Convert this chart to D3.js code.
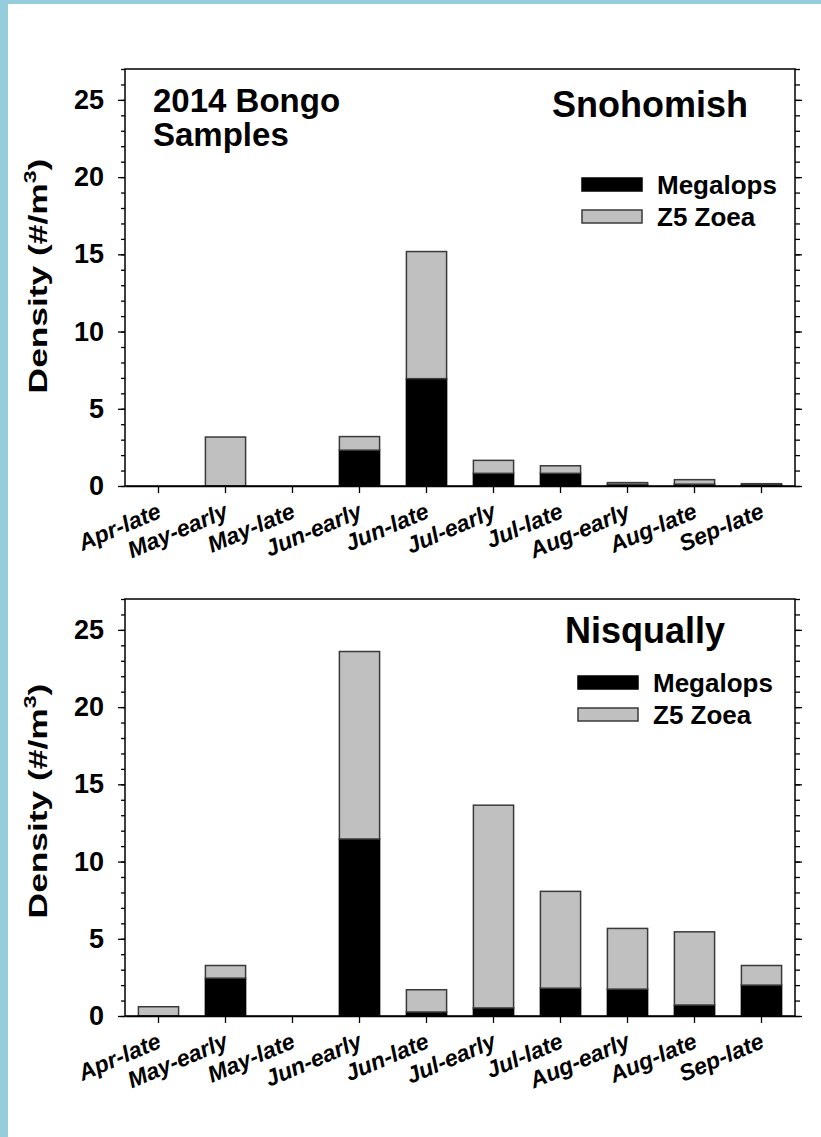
<!DOCTYPE html>
<html lang="en">
  <head>
    <meta charset="UTF-8" />
    <title>2014 Bongo Samples</title>
    <script src="https://d3js.org/d3.v7.min.js"></script>
    <style>
      body {
        margin: 0;
        background: #ffffff;
      }
      svg {
        display: block;
        font-family: "Liberation Sans", Arial, sans-serif;
        font-weight: bold;
      }
    </style>
  </head>
  <body>
    <script>
      // periods on the x axis
      const periods = ["Apr-late", "May-early", "May-late", "Jun-early", "Jun-late", "Jul-early", "Jul-late", "Aug-early", "Aug-late", "Sep-late"];

      // densities (#/m3)
      const snohomishMegalops = [0, 0, 0, 2.32, 6.95, 0.82, 0.82, 0.1, 0.12, 0.07];
      const snohomishZoea = [0, 3.17, 0, 0.88, 8.23, 0.84, 0.49, 0.12, 0.29, 0.08];
      const nisquallyMegalops = [0, 2.45, 0, 11.46, 0.26, 0.52, 1.8, 1.74, 0.71, 2.0];
      const nisquallyZoea = [0.6, 0.82, 0, 12.14, 1.44, 13.13, 6.27, 3.93, 4.74, 1.27];

      const seriesNames = ["Megalops", "Z5 Zoea"];
      const yTicks = [0, 5, 10, 15, 20, 25];
      const yMax = 27;

      const W = 821,
        H = 1137;

      const svg = d3.select("body").append("svg").attr("width", W).attr("height", H);

      // light blue frame on the left and top
      svg.append("rect").attr("width", W).attr("height", H).attr("fill", "#96cddc");
      svg.append("rect").attr("x", 8).attr("y", 4).attr("width", W - 8).attr("height", H - 4).attr("fill", "#ffffff");

      const color = d3.scaleOrdinal().domain(seriesNames).range(["#000000", "#c0c0c0"]);
      const strokeColor = d3.scaleOrdinal().domain(seriesNames).range(["#000000", "#3a3a3a"]);

      function drawPanel(cfg) {
        const x = d3.scaleBand().domain(periods).range([125, 795]).paddingInner(0.4).paddingOuter(0.2);
        const y = d3.scaleLinear().domain([0, yMax]).range([cfg.bottom, cfg.top]);

        const rows = periods.map((p, i) => ({ period: p, Megalops: cfg.megalops[i], "Z5 Zoea": cfg.zoea[i] }));
        const stacked = d3.stack().keys(seriesNames)(rows);

        const g = svg.append("g");

        // bars
        g.selectAll(".series")
          .data(stacked)
          .enter()
          .append("g")
          .attr("fill", (d) => color(d.key))
          .attr("stroke", (d) => strokeColor(d.key))
          .attr("stroke-width", 1.5)
          .selectAll("rect")
          .data((d) => d.filter((v) => v[1] - v[0] > 0))
          .enter()
          .append("rect")
          .attr("x", (d) => x(d.data.period))
          .attr("width", x.bandwidth())
          .attr("y", (d) => y(d[1]))
          .attr("height", (d) => y(d[0]) - y(d[1]));

        // frame
        g.append("rect")
          .attr("x", 125)
          .attr("y", cfg.top)
          .attr("width", 670)
          .attr("height", cfg.bottom - cfg.top)
          .attr("fill", "none")
          .attr("stroke", "#000")
          .attr("stroke-width", 1.5);

        // left axis: labelled majors, minor every 1
        const left = g.append("g").attr("transform", "translate(125,0)");
        left.call(d3.axisLeft(y).tickValues(d3.range(0, yMax + 1, 1)).tickSize(4).tickFormat(""));
        const leftMajor = g.append("g").attr("transform", "translate(125,0)");
        leftMajor.call(d3.axisLeft(y).tickValues(yTicks).tickSize(7).tickPadding(14));
        left.select(".domain").remove();
        leftMajor.select(".domain").remove();
        left.selectAll("line").attr("stroke-width", 1.3);
        leftMajor.selectAll("line").attr("stroke-width", 1.3);
        leftMajor.selectAll("text").attr("font-size", 27).attr("font-family", "Liberation Sans").attr("font-weight", "bold").attr("fill", "#000");

        // right axis: inward ticks
        const right = g.append("g").attr("transform", "translate(795,0)");
        right.call(d3.axisLeft(y).tickValues(d3.range(0, yMax + 1, 1)).tickSize(-5).tickFormat(""));
        const rightMajor = g.append("g").attr("transform", "translate(795,0)");
        rightMajor.call(d3.axisLeft(y).tickValues(yTicks).tickSize(-7).tickFormat(""));
        right.select(".domain").remove();
        rightMajor.select(".domain").remove();
        right.selectAll("line").attr("stroke-width", 1.3);
        rightMajor.selectAll("line").attr("stroke-width", 1.3);

        // bottom axis
        const bottom = g.append("g").attr("transform", `translate(0,${cfg.bottom})`);
        bottom.call(d3.axisBottom(x).tickSize(7).tickSizeOuter(0));
        bottom.select(".domain").attr("stroke-width", 1.5);
        bottom.selectAll("line").attr("stroke-width", 1.3);
        bottom
          .selectAll("text")
          .attr("font-size", 23)
          .attr("font-family", "Liberation Sans")
          .attr("font-weight", "bold")
          .attr("font-style", "italic")
          .attr("fill", "#000")
          .attr("text-anchor", "end")
          .attr("x", 0)
          .attr("y", 0)
          .attr("dy", "0")
          .attr("transform", "translate(4,31) rotate(-23)");

        // y title with superscript (drawn stretched along its length like the original)
        const yt = g
          .append("text")
          .attr("transform", `translate(47,${cfg.labelY}) rotate(-90) scale(1.36,1)`)
          .attr("text-anchor", "middle")
          .attr("font-size", 26);
        yt.append("tspan").text("Density (#/m");
        yt.append("tspan").attr("font-size", 17).attr("dy", -11).text("3");
        yt.append("tspan").attr("dy", 11).text(")");

        // panel title
        g.append("text").attr("x", cfg.titleX).attr("y", cfg.titleY).attr("text-anchor", "end").attr("font-size", 36).text(cfg.title);

        // legend
        const lg = g
          .selectAll(".legend")
          .data(seriesNames)
          .enter()
          .append("g")
          .attr("transform", (d, i) => `translate(${cfg.legendX},${cfg.legendY + i * 32})`);
        lg.append("rect")
          .attr("x", 0)
          .attr("y", -7)
          .attr("width", 60)
          .attr("height", 13)
          .attr("fill", (d) => color(d))
          .attr("stroke", (d) => strokeColor(d))
          .attr("stroke-width", 1.5);
        lg.append("text").attr("x", 75).attr("y", 9).attr("font-size", 26).text((d) => d);

        return g;
      }

      const topPanel = drawPanel({
        top: 69,
        bottom: 486,
        megalops: snohomishMegalops,
        zoea: snohomishZoea,
        title: "Snohomish",
        titleX: 748,
        titleY: 117,
        legendX: 582,
        legendY: 185,
        labelY: 276,
      });

      topPanel.append("text").attr("x", 153).attr("y", 112).attr("font-size", 33).text("2014 Bongo");
      topPanel.append("text").attr("x", 153).attr("y", 146).attr("font-size", 33).text("Samples");

      drawPanel({
        top: 599,
        bottom: 1016,
        megalops: nisquallyMegalops,
        zoea: nisquallyZoea,
        title: "Nisqually",
        titleX: 725,
        titleY: 643,
        legendX: 578,
        legendY: 683,
        labelY: 801,
      });
    </script>
  </body>
</html>
